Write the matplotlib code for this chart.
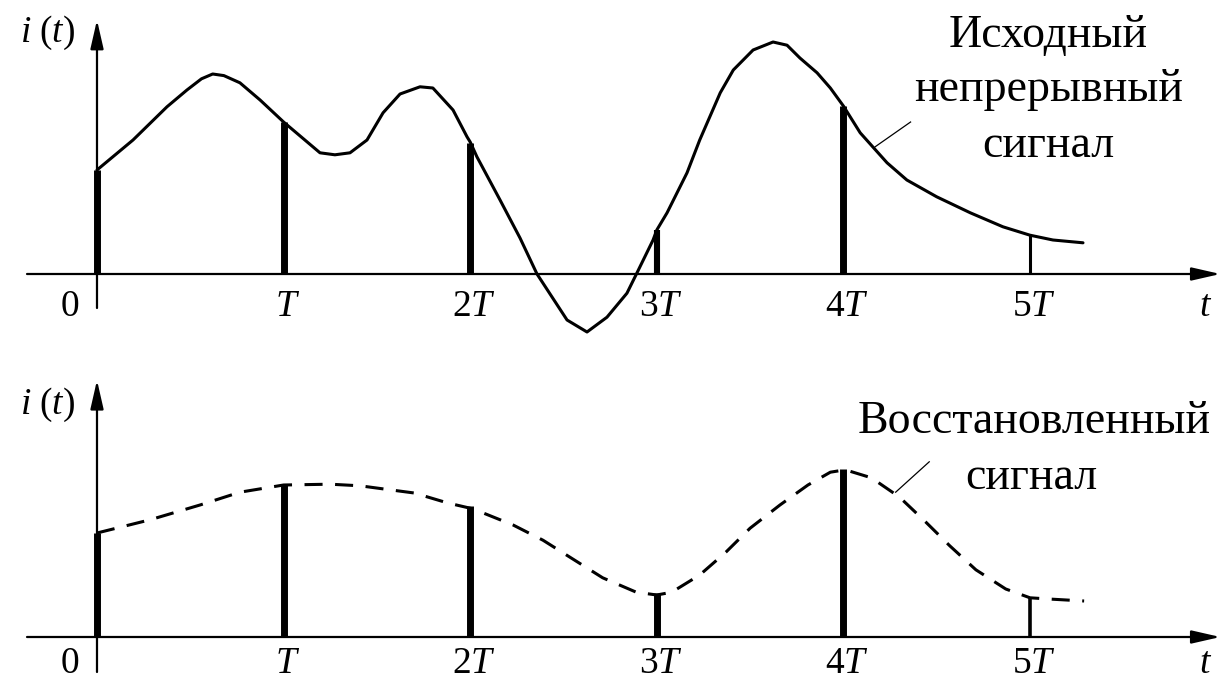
import matplotlib
matplotlib.use("Agg")
import matplotlib.pyplot as plt

plt.rcParams["font.family"] = ["Liberation Serif", "DejaVu Serif"]
plt.rcParams["mathtext.fontset"] = "custom"
plt.rcParams["mathtext.rm"] = "Liberation Serif"
plt.rcParams["mathtext.it"] = "Liberation Serif:italic"
plt.rcParams["lines.scale_dashes"] = False

# Sampling instants (in units of T) and sampled values
sample_t = [0, 1, 2, 3, 4, 5]
sample_v = [2.6, 3.8, 3.27, 1.1, 4.2, 0.97]
stem_widths_top = [5.0, 5.0, 5.0, 4.4, 5.0, 2.2]
stem_widths_bot = [5.0, 5.0, 5.0, 5.0, 5.0, 2.6]

tick_pos = [0, 1, 2, 3, 4, 5]
tick_labels = ["0", "$T$", "$2T$", "$3T$", "$4T$", "$5T$"]

# Original continuous signal
orig_t = [0.0, 0.193, 0.375, 0.482, 0.56, 0.62, 0.68, 0.766, 0.874, 1.0,
          1.195, 1.275, 1.356, 1.447, 1.533, 1.624, 1.731, 1.80, 1.908, 1.983,
          2.0, 2.036, 2.16, 2.267, 2.358, 2.428, 2.519, 2.626, 2.733, 2.84,
          2.894, 2.98, 3.0, 3.055, 3.162, 3.23, 3.34, 3.41, 3.516, 3.623,
          3.698, 3.767, 3.859, 3.93, 4.0, 4.09, 4.234, 4.34, 4.50, 4.68,
          4.855, 5.0, 5.123, 5.284]
orig_v = [2.6, 3.35, 4.18, 4.6, 4.88, 5.0, 4.96, 4.78, 4.35, 3.8,
          3.03, 2.98, 3.03, 3.35, 4.03, 4.5, 4.68, 4.65, 4.1, 3.43,
          3.3, 2.93, 1.85, 0.9, 0.0, -0.5, -1.15, -1.45, -1.08, -0.48,
          0.03, 0.85, 1.1, 1.53, 2.53, 3.35, 4.53, 5.1, 5.6, 5.8,
          5.72, 5.4, 5.03, 4.65, 4.2, 3.53, 2.78, 2.35, 1.93, 1.53,
          1.18, 0.97, 0.85, 0.78]

# Reconstructed signal
rec_t = [0.0, 0.284, 0.552, 0.766, 1.0, 1.25, 1.41, 1.57, 1.70, 1.88,
         2.0, 2.07, 2.23, 2.39, 2.56, 2.71, 2.89, 3.0, 3.08, 3.23,
         3.37, 3.5, 3.66, 3.81, 3.93, 4.01, 4.15, 4.30, 4.44, 4.57,
         4.71, 4.87, 5.0, 5.10, 5.29]
rec_v = [2.6, 2.93, 3.3, 3.62, 3.8, 3.82, 3.78, 3.68, 3.6, 3.35,
         3.22, 3.1, 2.8, 2.42, 1.92, 1.48, 1.12, 1.05, 1.12, 1.55,
         2.12, 2.72, 3.3, 3.8, 4.12, 4.18, 3.98, 3.5, 2.88, 2.28,
         1.68, 1.2, 0.98, 0.95, 0.9]

fig = plt.figure(figsize=(12.25, 6.84), dpi=100)
ax_top = fig.add_axes([0, 0.5, 1, 0.5])
ax_bot = fig.add_axes([0, 0, 1, 0.5])

XLIM = (-0.5198, 6.045)
ax_top.set_xlim(*XLIM)
ax_top.set_ylim(-1.7, 6.85)
ax_bot.set_xlim(*XLIM)
ax_bot.set_ylim(-1.175, 7.375)

arrow = dict(arrowstyle="-|>,head_length=0.7,head_width=0.16", lw=1.6,
             color="black", mutation_scale=25, shrinkA=0, shrinkB=0)


def draw_axes(ax, ytip, ybottom, ylab, ytick):
    ax.set_axis_off()
    ax.annotate("", xy=(6.02, 0), xytext=(-0.375, 0), arrowprops=arrow)
    ax.annotate("", xy=(0, ytip), xytext=(0, ybottom), arrowprops=arrow)
    ax.text(-0.263, ylab, "$i\\ (t)$", fontsize=27, ha="center", va="center")
    for p, lab in zip(tick_pos, tick_labels):
        dx = -0.145 if p == 0 else 0.02
        ax.text(p + dx, ytick, lab, fontsize=27, ha="center", va="baseline")
    ax.text(5.94, ytick, "$t$", fontsize=27, ha="center", va="baseline")


draw_axes(ax_top, 6.35, -0.85, 6.03, -1.05)
draw_axes(ax_bot, 6.42, -0.875, 5.8, -0.9)

# Top: continuous signal with samples
ax_top.plot(orig_t, orig_v, color="black", lw=2.2,
            solid_capstyle="round", solid_joinstyle="round")
ax_top.vlines(sample_t, 0, sample_v, colors="black", linewidths=stem_widths_top)
ax_top.plot([4.17, 4.36], [3.18, 3.8], color="black", lw=0.9)
for v, s in zip([5.675, 4.325, 2.925],
                ["Исходный", "непрерывный", "сигнал"]):
    ax_top.text(5.10, v, s, fontsize=33, ha="center", va="baseline")

# Bottom: samples with reconstructed (dashed) signal
ax_bot.vlines(sample_t, 0, sample_v, colors="black", linewidths=stem_widths_bot)
ax_bot.plot(rec_t, rec_v, color="black", lw=2.2, linestyle=(0, (13, 9)))
ax_bot.plot([4.28, 4.46], [3.62, 4.38], color="black", lw=0.9)
ax_bot.text(5.02, 5.1, "Восстановленный", fontsize=33, ha="center", va="baseline")
ax_bot.text(5.005, 3.7, "сигнал", fontsize=33, ha="center", va="baseline")

fig.savefig("out.png", dpi=100, facecolor="white")
